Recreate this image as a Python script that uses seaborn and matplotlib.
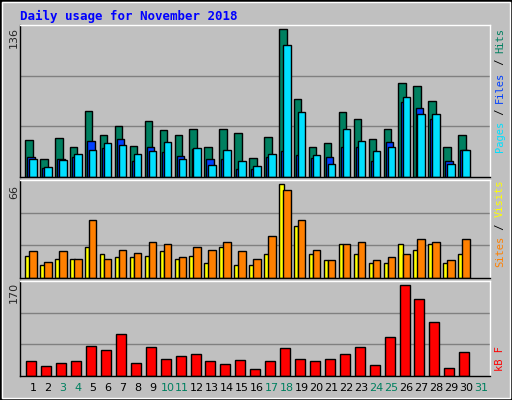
import matplotlib
matplotlib.use("Agg")
import matplotlib.pyplot as plt
import seaborn as sns
import numpy as np

days = list(range(1, 32))
hits  = [33,16,35,27,59,38,46,28,50,42,38,43,27,43,39,17,36,132,70,27,30,58,52,34,43,84,81,68,27,38,0]
files = [18,8,16,18,32,26,34,14,27,22,19,25,16,16,7,7,18,23,20,17,18,27,27,14,31,67,62,52,14,24,0]
pages = [16,9,15,21,24,30,29,21,23,31,16,26,11,24,14,10,21,118,58,20,12,43,32,23,27,72,56,56,12,24,0]
visits= [15,9,13,13,21,16,14,14,15,18,13,15,10,21,9,9,16,63,35,16,12,23,16,10,10,23,19,23,10,16,0]
sites = [18,11,18,13,39,13,19,17,24,23,14,21,19,24,18,13,28,59,39,19,12,23,24,12,14,16,26,24,12,26,0]
kbytes= [26,18,24,27,54,47,75,24,52,31,36,40,26,22,29,13,27,50,31,27,31,40,52,20,70,163,138,97,15,43,0]
weekend = [3,4,10,11,17,18,24,25,31]
max_hits, max_visits, max_kb = 136, 66, 170

sns.set_theme(style="white")
W, H = 512, 400
fig = plt.figure(figsize=(W/100, H/100), dpi=100)
fig.patch.set_facecolor("#C0C0C0")
fig.patches.append(plt.Rectangle((0,0),1,1,transform=fig.transFigure,fill=False,edgecolor="black",lw=2))
fig.patches.append(plt.Rectangle((2/W,2/H),(W-4)/W,(H-4)/H,transform=fig.transFigure,fill=False,edgecolor="white",lw=1))

def ax_px(x0, y0, x1, y1):
    return fig.add_axes([x0/W, 1-y1/H, (x1-x0)/W, (y1-y0)/H])

sp = 14.93
xl = (1-13/sp, 1+(490-33)/sp)
d = np.array(days[:30], dtype=float)

def style(ax, ymax, top):
    ax.set_facecolor("#C0C0C0")
    ax.set_xlim(*xl); ax.set_ylim(0, ymax*top)
    for g in (ymax/3, 2*ymax/3):
        ax.axhline(g, color="#808080", lw=1, zorder=0)
    ax.set_xticks([]); ax.set_yticks([])
    for s in ax.spines.values():
        s.set_color("white"); s.set_linewidth(1)
    ax.spines["left"].set_color("black"); ax.spines["bottom"].set_color("black")

ax1 = ax_px(20, 25, 490, 177)
style(ax1, max_hits, 1.0)
kw = dict(edgecolor="black", linewidth=1, align="edge")
ax1.bar(d-0.52, hits[:30], 0.5, color="#008060", **kw)
ax1.bar(d-0.38, files[:30], 0.5, color="#0040FF", **kw)
ax1.bar(d-0.25, pages[:30], 0.5, color="#00E0FF", **kw)

ax2 = ax_px(20, 180, 490, 278)
style(ax2, max_visits, 1.0)
ax2.bar(d-0.52, visits[:30], 0.3, color="#FFFF00", **kw)
ax2.bar(d-0.25, sites[:30], 0.5, color="#FF8000", **kw)

ax3 = ax_px(20, 281, 490, 376)
style(ax3, max_kb, 1.0)
ax3.bar(d-0.45, kbytes[:30], 0.67, color="#FF0000", **kw)

mono = "DejaVu Sans Mono"
fig.text(20/W, 1-16/H, "Daily usage for November 2018", color="#0000FF", fontsize=9, fontweight="bold", family=mono, va="center")
for y, t in ((37, "136"), (192, "66"), (292, "170")):
    fig.text(14/W, 1-y/H, t, rotation=90, fontsize=8, va="center", ha="center", family="DejaVu Sans")

def side(ytop, parts):
    y = ytop
    for txt, col in parts:
        h = len(txt)*6.2
        fig.text(500/W, 1-(y+h/2)/H, txt, rotation=90, color=col, fontsize=7.5, family=mono, ha="center", va="center")
        y += h
side(28, [("Hits", "#008060"), (" / ", "black"), ("Files", "#0040FF"), (" / ", "black"), ("Pages", "#00E0FF")])
side(180, [("Visits", "#FFFF00"), (" / ", "black"), ("Sites", "#FF8000")])
side(346, [("kB F", "#FF0000")])

for dd in days:
    x = 33 + (dd-1)*sp
    fig.text(x/W, 1-388/H, str(dd), fontsize=8, ha="center", va="center",
             color="#00805F" if dd in weekend else "black", family="DejaVu Sans")

fig.savefig("out.png", dpi=100, facecolor=fig.get_facecolor())
